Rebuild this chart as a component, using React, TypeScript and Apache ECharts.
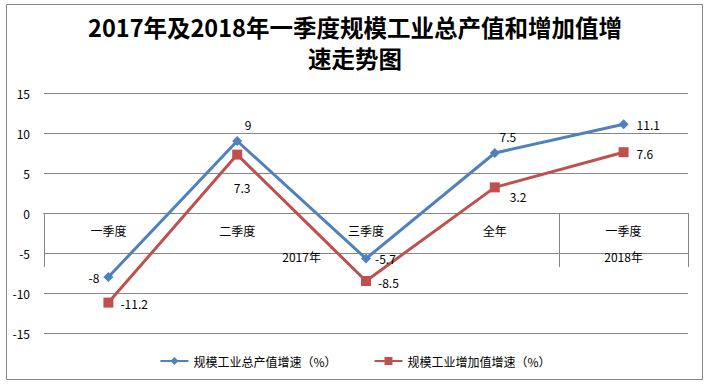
import React, { useEffect, useRef } from "react";
import * as echarts from "echarts";

const categories = ["一季度", "二季度", "三季度", "全年", "一季度"];
const groupLabels = ["2017年", "2018年"];
const groupLabelPos = [2, 4.5];
const groupBounds = [0, 4, 5];
const outputGrowth = [-8, 9, -5.7, 7.5, 11.1];
const addedGrowth = [-11.2, 7.3, -8.5, 3.2, 7.6];
const seriesNames = ["规模工业总产值增速（%）", "规模工业增加值增速（%）"];
const yTicks = { min: -15, max: 15, interval: 5 };

const FONT = "'Noto Sans CJK SC', 'Noto Sans', sans-serif";

// label placement per point [position, dx, dy]
const blueLabelPos: [string, number, number][] = [
  ["left", 0, 0],
  ["top", 11, -2],
  ["right", 0, 0],
  ["top", 13, -2],
  ["right", 4, 0],
];
const redLabelPos: [string, number, number][] = [
  ["right", 3, 1],
  ["bottom", 5, 18],
  ["right", 3, 1],
  ["right", 6, 9],
  ["right", 4, 1],
];

const GRID = { left: 44, right: 22, top: 93, bottom: 54 };
const PLOT_H = 387 - GRID.top - GRID.bottom;

export default function App() {
  const ref = useRef<HTMLDivElement>(null);
  useEffect(() => {
    if (!ref.current) return;
    const chart = echarts.init(ref.current, undefined, { renderer: "svg" });
    const mk = (vals: number[], pos: [string, number, number][]) =>
      vals.map((v, i) => ({
        value: v,
        label: { position: pos[i][0], offset: [pos[i][1], pos[i][2]] },
      }));
    // move category axis up to the zero line
    const zeroOffset = -PLOT_H * (0 - yTicks.min) / (yTicks.max - yTicks.min);
    chart.setOption({
      animation: false,
      backgroundColor: "#fff",
      textStyle: { fontFamily: FONT },
      title: {
        text: "2017年及2018年一季度规模工业总产值和增加值增\n速走势图",
        left: "center",
        top: 6,
        textStyle: {
          fontFamily: FONT,
          fontSize: 23.5,
          fontWeight: "bold",
          color: "#000",
          lineHeight: 31,
        },
      },
      graphic: [
        {
          type: "rect",
          shape: { x: 6.5, y: 4.5, width: 696, height: 375 },
          style: { fill: "none", stroke: "#868686", lineWidth: 1 },
          silent: true,
          z: -1,
        },
      ],
      legend: {
        left: "center",
        top: 350,
        itemWidth: 28,
        itemHeight: 10,
        itemGap: 37,
        textStyle: { fontFamily: FONT, fontSize: 12, color: "#000" },
        data: seriesNames,
      },
      grid: { ...GRID, containLabel: false },
      xAxis: [
        {
          type: "category",
          data: categories,
          position: "bottom",
          offset: zeroOffset,
          axisLine: { onZero: false, lineStyle: { color: "#868686", width: 1 } },
          axisTick: { show: false },
          axisLabel: { margin: 11, fontSize: 12, color: "#000", fontFamily: FONT },
          splitLine: { show: false },
        },
        {
          type: "value",
          min: 0,
          max: 5,
          position: "bottom",
          offset: zeroOffset,
          axisLine: { onZero: false, lineStyle: { color: "#868686", width: 1 } },
          axisTick: {
            show: true,
            customValues: groupBounds,
            length: 54,
            lineStyle: { color: "#868686", width: 1 },
          },
          axisLabel: {
            customValues: groupLabelPos,
            margin: 37,
            fontSize: 12,
            color: "#000",
            fontFamily: FONT,
            formatter: (v: number) => groupLabels[groupLabelPos.indexOf(v)] ?? "",
          },
          splitLine: { show: false },
        },
      ],
      yAxis: {
        type: "value",
        min: yTicks.min,
        max: yTicks.max,
        interval: yTicks.interval,
        axisLine: { show: false, onZero: false },
        axisTick: { show: false },
        axisLabel: { margin: 14, fontSize: 12, color: "#000", fontFamily: FONT },
        splitLine: { lineStyle: { color: "#868686", width: 1 } },
      },
      series: [
        {
          name: seriesNames[0],
          type: "line",
          data: mk(outputGrowth, blueLabelPos),
          color: "#4F81BD",
          symbol: "diamond",
          symbolSize: 10,
          lineStyle: { width: 3, color: "#4F81BD" },
          itemStyle: { color: "#4F81BD" },
          label: { show: true, fontSize: 12, color: "#000", fontFamily: FONT, distance: 4 },
          z: 3,
        },
        {
          name: seriesNames[1],
          type: "line",
          data: mk(addedGrowth, redLabelPos),
          color: "#C0504D",
          symbol: "rect",
          symbolSize: 10,
          lineStyle: { width: 3, color: "#C0504D" },
          itemStyle: { color: "#C0504D" },
          label: { show: true, fontSize: 12, color: "#000", fontFamily: FONT, distance: 4 },
          z: 2,
        },
      ],
    });
    return () => chart.dispose();
  }, []);
  return (
    <div
      ref={ref}
      style={{ position: "fixed", left: 0, top: 0, width: 710, height: 387 }}
    />
  );
}
